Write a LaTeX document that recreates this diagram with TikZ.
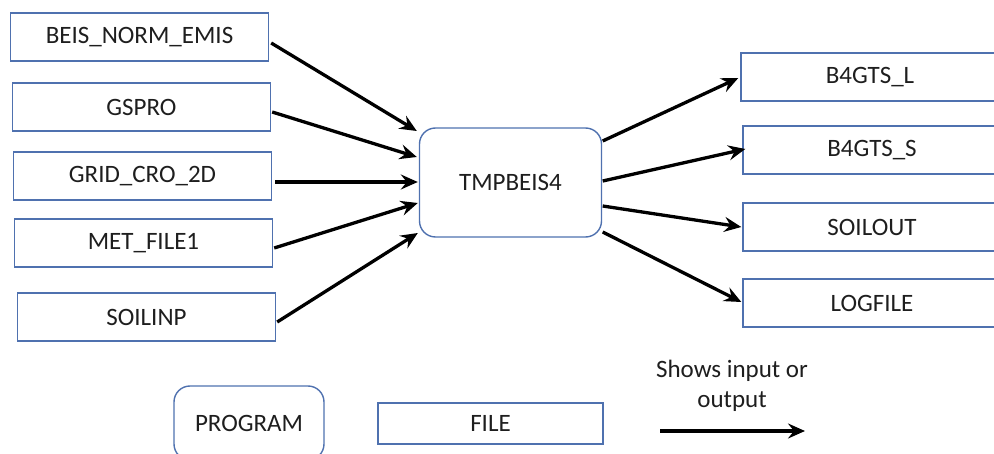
\documentclass[tikz,border=0pt]{standalone}
\usepackage{fontspec}
\setmainfont{Carlito}
\usetikzlibrary{arrows.meta,calc}
\definecolor{boxblue}{RGB}{79,113,175}
\definecolor{txt}{RGB}{30,30,30}
\tikzset{
  filebox/.style={draw=boxblue, line width=1.4pt, rectangle, inner sep=0pt,
    minimum width=258pt, minimum height=48pt, text=txt,
    font=\fontsize{25}{30}\selectfont},
  progbox/.style={draw=boxblue, line width=1.4pt, rectangle, rounded corners=16pt, inner sep=0pt,
    text=txt, font=\fontsize{25}{30}\selectfont},
  flow/.style={line width=3.3pt, draw=black, -{Stealth[length=17pt, width=15pt, inset=6pt]}},
}
\begin{document}
\begin{tikzpicture}[x=1pt,y=-1pt]
\useasboundingbox (0,0) rectangle (994,454);
\clip (0,0) rectangle (994,454);
% inputs
\node[filebox] (beis) at (139.5,37) {BEIS\_NORM\_EMIS};
\node[filebox] (gspro) at (141.5,107) {GSPRO};
\node[filebox] (grid) at (142.5,176) {GRID\_CRO\_2D};
\node[filebox] (met) at (143.5,243) {MET\_FILE1};
\node[filebox] (soilinp) at (146.5,317) {SOILINP};
% program
\node[progbox, minimum width=182pt, minimum height=109pt] (tmp) at (510.5,182.5) {TMPBEIS4};
% outputs
\node[filebox] (b4l) at (870,77) {B4GTS\_L};
\node[filebox] (b4s) at (872,150) {B4GTS\_S};
\node[filebox] (soilout) at (872,227) {SOILOUT};
\node[filebox] (logfile) at (872,303) {LOGFILE};
% input arrows
\draw[flow] ($(beis.east)+(2,6)$) -- ($(tmp.west)+(-2,-51.5)$);
\draw[flow] ($(gspro.east)+(1,5)$) -- ($(tmp.west)+(-2,-25.5)$);
\draw[flow] ($(grid.east)+(3,6)$) -- ($(tmp.west)+(-1,-0.5)$);
\draw[flow] ($(met.east)+(1,5)$) -- ($(tmp.west)+(-1,20.5)$);
\draw[flow] ($(soilinp.east)+(1,5)$) -- ($(tmp.west)+(-1,50.5)$);
% output arrows
\draw[flow] ($(tmp.east)+(0.5,-41.5)$) -- ($(b4l.west)+(-2,1)$);
\draw[flow] ($(tmp.east)+(0.5,-1.5)$) -- ($(b4s.west)+(3,-1)$);
\draw[flow] ($(tmp.east)+(0.5,23.5)$) -- ($(soilout.west)+(-1,0)$);
\draw[flow] ($(tmp.east)+(0.5,49.5)$) -- ($(logfile.west)+(-1,-1)$);
% legend
\node[progbox, minimum width=150pt, minimum height=74pt] (lprog) at (249,423) {PROGRAM};
\node[filebox, minimum width=225pt, minimum height=41pt] (lfile) at (490.5,423.5) {FILE};
\node[text=txt, font=\fontsize{25}{30}\selectfont, align=center, inner sep=0pt] (ltext) at (732,386) {Shows input or\\output};
\coordinate (la) at (660,431);
\coordinate (lb) at (805,431);
\draw[flow] (la) -- (lb);
\end{tikzpicture}
\end{document}
